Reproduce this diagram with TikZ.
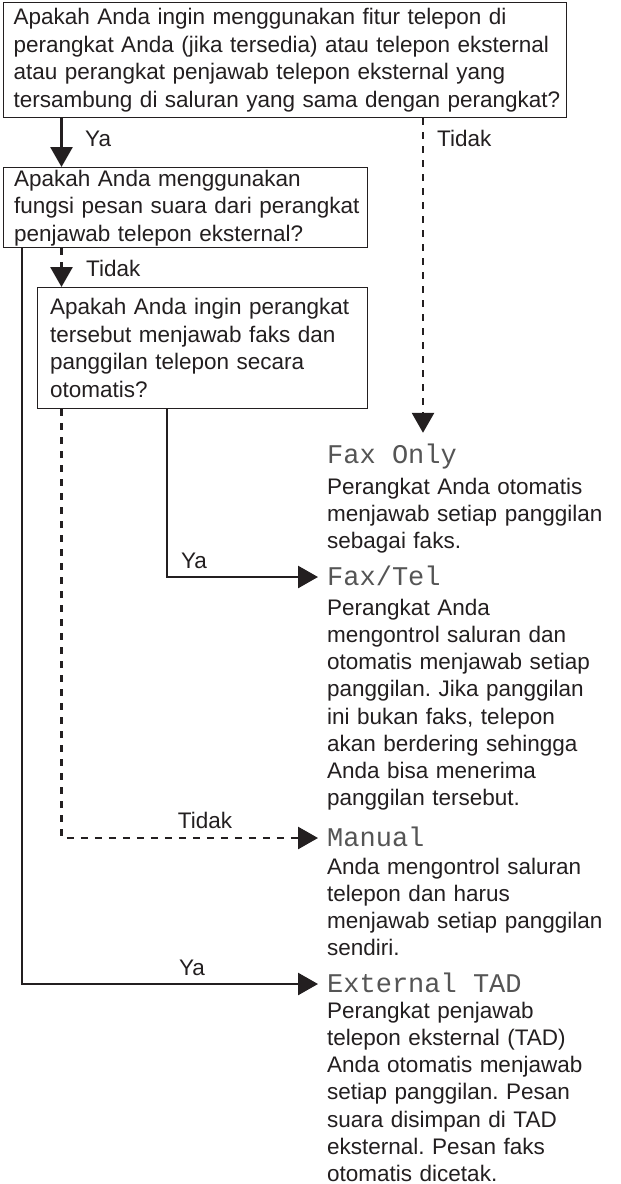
\documentclass[tikz,border=0pt]{standalone}
\usepackage{fontspec}
\setmainfont{Liberation Sans}
\newfontfamily\lcdfont{Liberation Mono}
\usetikzlibrary{arrows.meta}
\definecolor{ink}{HTML}{231F20}
\definecolor{lcd}{HTML}{555555}
\newcommand{\oneline}[1]{\mbox{#1}}
\hfuzz=50pt
\frenchspacing
\begin{document}
\begin{tikzpicture}[x=1pt,y=-1pt,
  every node/.style={text=ink},
  txt/.style={font=\fontsize{22.5}{27.5}\selectfont, inner sep=0pt},
  qbox/.style={txt, draw=ink, line width=1.4pt, anchor=north west, align=left, inner xsep=10.5pt, inner ysep=0pt},
  mode/.style={font=\lcdfont\fontsize{27}{30}\selectfont, text=lcd, anchor=base west, inner xsep=9pt, inner ysep=0pt, text height=16pt, text depth=0pt},
  desc/.style={txt, font=\fontsize{22.5}{27.25}\selectfont, anchor=base west, align=left, text width=292pt},
  lbl/.style={txt, anchor=base},
  conn/.style={draw=ink, line width=2.7pt, -{Triangle[length=20pt,width=22pt]}},
  dconn/.style={conn, dash pattern=on 7pt off 7pt},
]
\fill[white] (0,0) rectangle (621,1184);
\useasboundingbox (0,0) rectangle (621,1184);

\node[qbox, minimum width=563.5pt, minimum height=115.5pt, text width=542.5pt] (q1) at (2.5,1.5)
  {\oneline{Apakah Anda ingin menggunakan fitur telepon di}\\ \oneline{perangkat Anda (jika tersedia) atau telepon eksternal}\\ \oneline{atau perangkat penjawab telepon eksternal yang}\\ \oneline{tersambung di saluran yang sama dengan perangkat?}};
\node[qbox, minimum width=364pt, minimum height=80pt, text width=343pt] (q2) at (3,167)
  {\oneline{Apakah Anda menggunakan}\\ \oneline{fungsi pesan suara dari perangkat}\\ \oneline{penjawab telepon eksternal?}};
\node[qbox, inner xsep=12.5pt, minimum width=330pt, minimum height=121pt, text width=305pt] (q3) at (37,287)
  {\oneline{Apakah Anda ingin perangkat}\\ \oneline{tersebut menjawab faks dan}\\ \oneline{panggilan telepon secara}\\ \oneline{otomatis?}};

\node[mode] (m1) at (318,463) {Fax Only};
\node[mode] (m2) at (318,585) {Fax/Tel};
\node[mode] (m3) at (318,846) {Manual};
\node[mode] (m4) at (318,992) {External TAD};

\node[desc] (d1) at (327,494) {Perangkat Anda otomatis\\ menjawab setiap panggilan\\ sebagai faks.};
\node[desc] (d2) at (327,615) {Perangkat Anda\\ mengontrol saluran dan\\ otomatis menjawab setiap\\ panggilan. Jika panggilan\\ ini bukan faks, telepon\\ akan berdering sehingga\\ Anda bisa menerima\\ panggilan tersebut.};
\node[desc] (d3) at (327,874) {Anda mengontrol saluran\\ telepon dan harus\\ menjawab setiap panggilan\\ sendiri.};
\node[desc] (d4) at (327,1018) {Perangkat penjawab\\ telepon eksternal (TAD)\\ Anda otomatis menjawab\\ setiap panggilan. Pesan\\ suara disimpan di TAD\\ eksternal. Pesan faks\\ otomatis dicetak.};

\node[lbl, anchor=base west] (ya1) at (85,146) {Ya};
\node[lbl, anchor=base west] (no1) at (437,146) {Tidak};
\node[lbl, anchor=base west] (no2) at (86,276) {Tidak};
\node[lbl] (ya2) at (194,568) {Ya};
\node[lbl] (no3) at (205,828) {Tidak};
\node[lbl] (ya3) at (192,975) {Ya};

\coordinate (xa) at (61.5,0);
\coordinate (xt) at (423,0);
\coordinate (xs) at (22,0);
\coordinate (xv) at (167,0);

\draw[conn] (q1.south -| xa) -- (q2.north -| xa);
\draw[dconn, shorten >=14pt] (q1.south -| xt) -- (xt |- m1.north);
\draw[dconn] (q2.south -| xa) -- (q3.north -| xa);
\draw[conn] (q2.south -| xs) |- (m4.west);
\draw[conn] (q3.south -| xv) |- (m2.west);
\draw[dconn] (q3.south -| xa) |- (m3.west);
\end{tikzpicture}
\end{document}
